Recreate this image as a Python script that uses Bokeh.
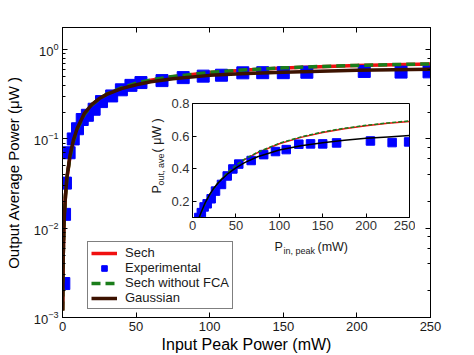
from bokeh.plotting import figure
from bokeh.models import (LinearAxis, LogAxis, FixedTicker, Legend, LegendItem,
                          Label, ColumnDataSource, CustomJSTickFormatter)
from bokeh.embed import file_html
from bokeh.resources import INLINE

# ---------------- data ----------------
exp_x = [0.9, 1.4, 2.0, 4.5, 7.3, 10.2, 13.4, 16.9, 21.5, 26.5, 33.4, 40, 46.5, 53.3,
         67.6, 82, 95.6, 108, 122.5, 136, 150, 166, 205, 230, 249]
exp_y = [0.0024, 0.0143, 0.032, 0.070, 0.100, 0.130, 0.165, 0.184, 0.215, 0.262, 0.303,
         0.355, 0.398, 0.428, 0.450, 0.486, 0.505, 0.517, 0.550, 0.552, 0.552, 0.558,
         0.570, 0.560, 0.564]

curve_x = [0.1, 0.5, 1, 2, 3, 5, 7.5, 10, 15, 20, 25, 30, 40, 50, 60, 75, 100, 125,
           150, 175, 200, 225, 250]
sech_y = [0.0012, 0.005, 0.011, 0.023, 0.036, 0.062, 0.095, 0.128, 0.190, 0.240, 0.280,
          0.315, 0.372, 0.418, 0.455, 0.498, 0.553, 0.592, 0.622, 0.645, 0.663, 0.678, 0.690]
nofca_y = [0.0012, 0.005, 0.011, 0.023, 0.036, 0.062, 0.095, 0.128, 0.190, 0.241, 0.281,
           0.317, 0.374, 0.421, 0.458, 0.501, 0.556, 0.595, 0.625, 0.648, 0.666, 0.681, 0.693]
gauss_y = [0.0012, 0.005, 0.011, 0.023, 0.037, 0.064, 0.098, 0.132, 0.195, 0.244, 0.283,
           0.315, 0.366, 0.405, 0.437, 0.473, 0.515, 0.541, 0.559, 0.574, 0.586, 0.595, 0.603]

x_ticks = [0, 50, 100, 150, 200, 250]
inset_y_ticks = [0.2, 0.4, 0.6, 0.8]

labels = ["Sech", "Experimental", "Sech without FCA", "Gaussian"]

RED = "#f01010"
BLUE = "#0000ff"
GREEN = "#1a7d1a"
BROWN = "#3c1200"
FONT = "Liberation Sans"
TXT = "#1a1a1a"

exp_src = ColumnDataSource(dict(x=exp_x, y=exp_y))
cur_src = ColumnDataSource(dict(x=curve_x, sech=sech_y, nofca=nofca_y, gauss=gauss_y))

blank = CustomJSTickFormatter(code="return ''")

# ---------------- main plot ----------------
p = figure(width=474, height=355, y_axis_type="log", x_range=(0, 250), y_range=(1e-3, 1.77),
           output_backend="svg", toolbar_location=None,
           min_border_left=62, min_border_right=44, min_border_top=27, min_border_bottom=37)
p.grid.visible = False
p.outline_line_color = "black"
p.background_fill_color = "white"
p.border_fill_color = "white"

r_sech = p.line("x", "sech", source=cur_src, line_color=RED, line_width=3.5)
r_exp = p.scatter("x", "y", source=exp_src, marker="square", size=12,
                  fill_color=BLUE, line_color=BLUE)
r_nofca = p.line("x", "nofca", source=cur_src, line_color=GREEN, line_width=3.5,
                 line_dash="9 5")
r_gauss = p.line("x", "gauss", source=cur_src, line_color=BROWN, line_width=3.5)

xa = p.xaxis[0]
xa.ticker = FixedTicker(ticks=x_ticks)
xa.axis_label = "Input Peak Power (mW)"
ya = p.yaxis[0]
ya.axis_label = "Output Average Power (μW )"

for ax in (xa, ya):
    ax.major_tick_in = 5
    ax.major_tick_out = 0
    ax.minor_tick_in = 3
    ax.minor_tick_out = 0
    ax.major_label_text_font = FONT
    ax.major_label_text_font_size = "13px"
    ax.major_label_text_color = TXT
    ax.axis_label_text_font = FONT
    ax.axis_label_text_font_style = "normal"
    ax.axis_label_text_color = "black"
    ax.major_label_standoff = 4
    ax.axis_line_color = "black"
    ax.major_tick_line_color = "black"
    ax.minor_tick_line_color = "black"
xa.axis_label_text_font_size = "16px"
ya.axis_label_text_font_size = "15px"
xa.axis_label_standoff = 2
ya.axis_label_standoff = 9
xa.minor_tick_line_color = None

top = LinearAxis(ticker=FixedTicker(ticks=x_ticks), formatter=blank,
                 major_label_text_font_size="1px",
                 major_tick_in=5, major_tick_out=0, minor_tick_line_color=None,
                 major_label_standoff=0)
right = LogAxis(formatter=blank, major_label_text_font_size="1px",
                major_tick_in=5, major_tick_out=0,
                minor_tick_in=3, minor_tick_out=0, major_label_standoff=0)
p.add_layout(top, "above")
p.add_layout(right, "right")

legend = Legend(items=[LegendItem(label=labels[0], renderers=[r_sech]),
                       LegendItem(label=labels[1], renderers=[r_exp]),
                       LegendItem(label=labels[2], renderers=[r_nofca]),
                       LegendItem(label=labels[3], renderers=[r_gauss])],
                location=(25, 8), label_text_font=FONT, label_text_font_size="13px",
                label_text_color=TXT, glyph_width=26, glyph_height=14, label_height=14,
                label_standoff=8, spacing=0, padding=3, margin=0,
                border_line_color="black", border_line_width=1,
                background_fill_color="white", background_fill_alpha=1)
p.add_layout(legend)

# inset axis labels (drawn on the main figure, offsets from its frame's bottom-left)
def lab(text, xo, yo, size, angle=0):
    p.add_layout(Label(x=0, y=1e-3, x_offset=xo, y_offset=yo, text=text,
                       text_font=FONT, text_font_size=size, text_color=TXT,
                       text_align="left", text_baseline="alphabetic",
                       angle=angle, angle_units="deg"))

lab("P", 212, 71, "12.5px")
lab("in, peak", 221, 66.5, "9px")
lab("(mW)", 255, 71, "12.5px")
lab("P", 94, 124, "12.5px", 90)
lab("out, ave", 98, 132, "9px", 90)
lab("( μW )", 94, 165, "12.5px", 90)

# ---------------- inset plot (separate root, positioned over the main plot) ----------------
q = figure(width=278, height=156, x_range=(0, 250), y_range=(0.1, 0.8),
           output_backend="svg", toolbar_location=None,
           min_border_left=55, min_border_right=6, min_border_top=6, min_border_bottom=36,
           border_fill_color=None, background_fill_color="white",
           styles={"position": "absolute", "left": "137px", "top": "97px"})
q.grid.visible = False
q.outline_line_color = "black"

q.line("x", "sech", source=cur_src, line_color=RED, line_width=1.5)
q.scatter("x", "y", source=exp_src, marker="square", size=8.5,
          fill_color=BLUE, line_color=BLUE)
q.line("x", "nofca", source=cur_src, line_color=GREEN, line_width=1.5, line_dash="4 2")
q.line("x", "gauss", source=cur_src, line_color="black", line_width=1.5)

q.xaxis.ticker = FixedTicker(ticks=x_ticks)
q.yaxis.ticker = FixedTicker(ticks=inset_y_ticks)
for ax in (q.xaxis[0], q.yaxis[0]):
    ax.major_tick_in = 4
    ax.major_tick_out = 0
    ax.minor_tick_line_color = None
    ax.major_label_text_font = FONT
    ax.major_label_text_font_size = "13px"
    ax.major_label_text_color = "#333333"
    ax.major_label_standoff = 3
    ax.axis_line_color = "black"

open("out.html", "w").write(file_html([p, q], INLINE))
